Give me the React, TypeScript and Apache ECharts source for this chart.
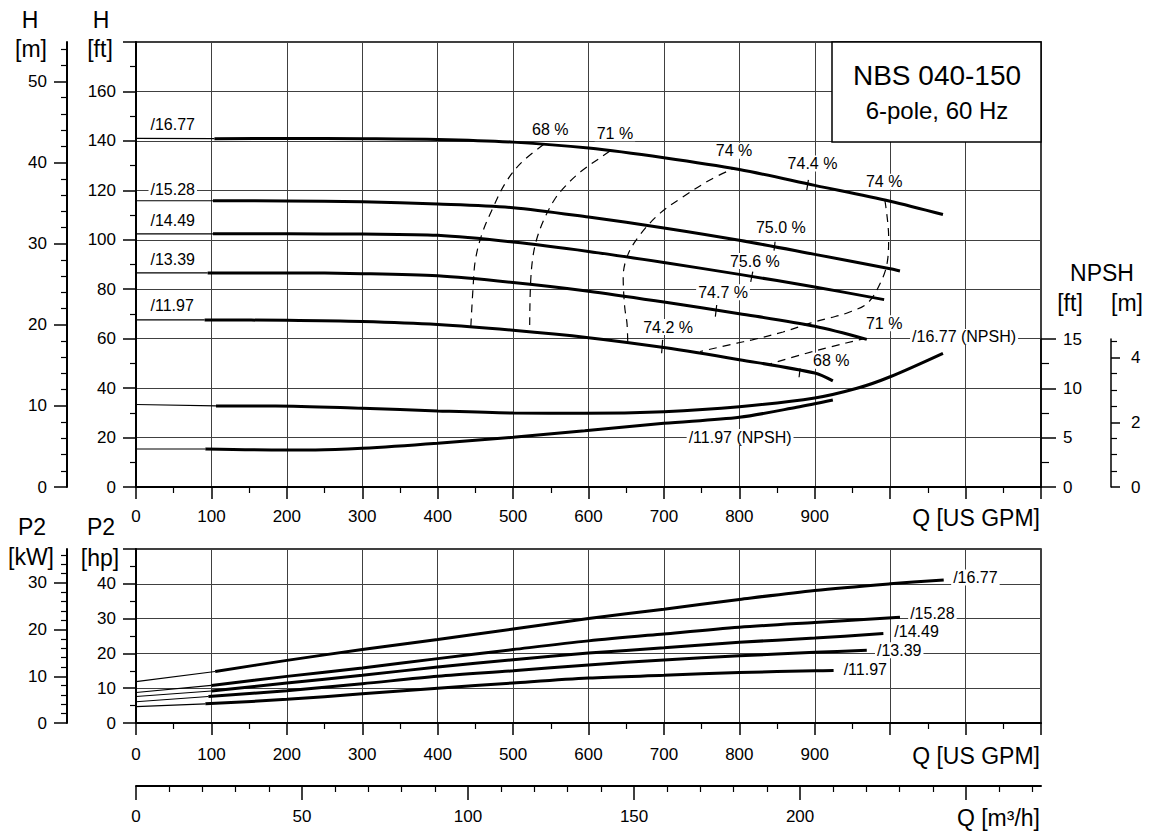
import React, { useEffect, useRef } from 'react';
import * as echarts from 'echarts';

const FONT = "'Liberation Sans', Arial, Helvetica, sans-serif";

// ---- axis extents / unit conversions ----
const Q_MAX_GPM = 1200;
const H_MAX_FT = 180;
const FT_TO_M = 0.3048;
const NPSH_AXIS_MAX_FT = 45; // hidden NPSH axis on the head grid (NPSH ft = H ft / 4)
const NPSH_SHOWN_MAX_FT = 15;
const P2_MAX_HP = 50;
const HP_TO_KW = 0.7457;
const GPM_PER_M3H = 4.40287;

// ---- head curves [Q GPM, H ft] (thin = extrapolated part, thick = operating range) ----
const h1677Thin = [[0, 141.0], [104, 140.9]];
const h1677 = [[104, 140.9], [200, 141.0], [300, 140.9], [400, 140.6], [500, 139.5], [600, 137.1], [700, 133.2], [800, 128.4], [900, 122.0], [1000, 115.6], [1070, 110.2]];
const h1528Thin = [[0, 115.8], [102, 115.8]];
const h1528 = [[102, 115.8], [200, 115.7], [300, 115.4], [400, 114.5], [500, 113.0], [600, 109.2], [700, 104.8], [800, 99.8], [900, 94.1], [1000, 88.3], [1013, 87.4]];
const h1449Thin = [[0, 102.4], [102, 102.4]];
const h1449 = [[102, 102.4], [200, 102.4], [300, 102.3], [400, 101.8], [500, 99.1], [600, 95.3], [700, 90.8], [800, 86.0], [900, 80.9], [992, 75.8]];
const h1339Thin = [[0, 86.6], [95, 86.6]];
const h1339 = [[95, 86.6], [200, 86.6], [300, 86.3], [400, 85.4], [500, 82.7], [600, 79.2], [700, 74.8], [800, 70.1], [900, 65.0], [969, 59.7]];
const h1197Thin = [[0, 67.6], [91, 67.6]];
const h1197 = [[91, 67.6], [200, 67.4], [300, 66.9], [400, 65.7], [500, 63.4], [600, 60.4], [700, 56.4], [800, 51.5], [900, 46.1], [924, 42.9]];

// ---- NPSH curves [Q GPM, NPSH ft] ----
const npsh1677Thin = [[0, 8.34], [106, 8.2]];
const npsh1677 = [[106, 8.2], [185, 8.2], [300, 7.96], [400, 7.69], [500, 7.48], [595, 7.45], [700, 7.62], [800, 8.12], [900, 9.0], [956, 9.98], [1000, 11.15], [1070, 13.52]];
const npsh1197Thin = [[0, 3.84], [92, 3.84]];
const npsh1197 = [[92, 3.84], [198, 3.74], [238, 3.74], [300, 3.91], [400, 4.42], [500, 5.03], [595, 5.68], [700, 6.44], [800, 7.05], [876, 8.06], [924, 8.8]];

// ---- power curves [Q GPM, P2 hp] ----
const p1677Thin = [[0, 11.9], [105, 14.8]];
const p1677 = [[105, 14.8], [200, 18.0], [300, 21.1], [400, 24.0], [500, 27.0], [600, 30.0], [700, 32.7], [800, 35.5], [900, 38.1], [1000, 40.0], [1071, 41.1]];
const p1528Thin = [[0, 8.75], [100, 10.8]];
const p1528 = [[100, 10.8], [200, 13.4], [300, 15.8], [400, 18.5], [500, 21.1], [600, 23.6], [700, 25.6], [800, 27.5], [900, 28.9], [1013, 30.4]];
const p1449Thin = [[0, 7.6], [100, 9.2]];
const p1449 = [[100, 9.2], [200, 11.5], [300, 13.7], [400, 16.1], [500, 18.2], [600, 20.1], [700, 21.6], [800, 23.2], [900, 24.4], [991, 25.7]];
const p1339Thin = [[0, 6.1], [96, 7.6]];
const p1339 = [[96, 7.6], [200, 9.3], [300, 11.3], [400, 13.4], [500, 15.0], [600, 16.7], [700, 18.1], [800, 19.3], [900, 20.3], [969, 20.9]];
const p1197Thin = [[0, 4.7], [92, 5.5]];
const p1197 = [[92, 5.5], [200, 6.8], [300, 8.4], [400, 10.0], [500, 11.5], [600, 12.9], [700, 13.7], [800, 14.5], [900, 15.0], [925, 15.1]];

// ---- iso-efficiency contours [Q GPM, H ft] ----
const eff68Left = [[444, 65.0], [447, 81.0], [450, 91.8], [459, 102.6], [474.5, 113.7], [489.5, 122.8], [510, 130.9], [541.6, 138.8]];
const eff71Left = [[522, 65.5], [523, 81.0], [525.7, 91.8], [531, 99.9], [540.7, 108.0], [554.6, 116.1], [568.7, 121.5], [589.5, 127.5], [617.5, 133.6], [629, 136.0]];
const eff74Left = [[652, 59.0], [651, 66.3], [648, 72.8], [646, 84.9], [652, 93.8], [668, 101.9], [695, 110.8], [725, 117.3], [761, 124.2], [792, 128.8]];
const eff74Right = [[993, 116.0], [998, 101.1], [996, 90.6], [987, 82.5], [970, 74.4], [943, 70.4], [920, 68.4], [894, 66.3], [858, 62.7], [817, 59.5], [797, 58.2], [748, 54.8]];
const eff71Right = [[969, 60.0], [963, 59.8], [920, 56.6], [881, 53.4], [841, 49.8]];

// short marks across the curves (best efficiency points, 68 % point)
const bepTicks = [
  [[891.6, 124.2], [889.4, 120.1]],
  [[847.4, 99.2], [846.0, 95.6]],
  [[817.8, 87.1], [815.1, 83.0]],
  [[770.0, 73.6], [768.2, 68.9]],
  [[698.3, 59.5], [697.0, 54.1]],
  [[880.6, 48.0], [879.2, 44.4]],
];

// ---- texts placed in data coordinates ----
const headCurveLabels = [[16.6, 146.8, '/16.77'], [16.6, 120.5, '/15.28'], [16.6, 108.0, '/14.49'], [16.6, 92.2, '/13.39'], [16.6, 73.6, '/11.97']];
const effLabels = [
  [549.4, 144.8, '68 %'], [635, 143.1, '71 %'], [793, 136.0, '74 %'], [897, 130.9, '74.4 %'], [992, 123.5, '74 %'],
  [855, 105.0, '75.0 %'], [820.5, 91.4, '75.6 %'], [778.4, 78.8, '74.7 %'], [705.5, 64.7, '74.2 %'],
  [992, 66.2, '71 %'], [922, 51.1, '68 %'],
];
const npshLabels = [[1098, 60.7, '/16.77 (NPSH)'], [801, 20.2, '/11.97 (NPSH)']];
const p2Labels = [[1113, 41.8, '/16.77'], [1056, 31.5, '/15.28'], [1035, 26.3, '/14.49'], [1012, 20.9, '/13.39'], [967, 15.3, '/11.97']];

const titleLines = ['NBS 040-150', '6-pole, 60 Hz'];

// ---------------------------------------------------------------------------

const BLACK = '#000';
const GRID_COLOR = '#404040';

function valueAxis(opts: any) {
  const {
    tickLen = 12, minorLen = 6, minorSplit = 2, labelMargin = 20, lineWidth = 2,
    formatter, tickValues, splitLine = false, ...rest
  } = opts;
  const axis: any = {
    type: 'value',
    axisLine: { show: true, onZero: false, lineStyle: { color: BLACK, width: lineWidth } },
    axisTick: { show: true, inside: false, length: tickLen, lineStyle: { color: BLACK, width: 1.5 } },
    minorTick: { show: true, splitNumber: minorSplit, length: minorLen, lineStyle: { color: BLACK, width: 1.2 } },
    axisLabel: {
      show: true, color: BLACK, fontSize: 17, fontFamily: FONT, margin: labelMargin,
      formatter, showMinLabel: true, showMaxLabel: true, hideOverlap: false,
    },
    splitLine: { show: splitLine, lineStyle: { color: GRID_COLOR, width: 1 } },
    minorSplitLine: { show: false },
    ...rest,
  };
  if (tickValues) axis.axisTick.customValues = tickValues;
  return axis;
}

const isMult = (v: number, step: number) => Math.abs(v / step - Math.round(v / step)) < 1e-6;

function lineSeries(data: number[][], xi: number, yi: number, width: number, extra: any = {}) {
  return {
    type: 'line', xAxisIndex: xi, yAxisIndex: yi, data,
    showSymbol: false, symbol: 'none', smooth: 0.3, silent: true, z: 3,
    lineStyle: { color: BLACK, width, ...(extra.lineStyle || {}) },
    ...Object.fromEntries(Object.entries(extra).filter(([k]) => k !== 'lineStyle')),
  };
}

function text(x: number, y: number, s: string, size: number, align = 'center', extraStyle: any = {}) {
  return {
    type: 'text', x, y, z: 100, silent: true,
    style: {
      text: s, fill: BLACK, fontSize: size, fontFamily: FONT, font: `${size}px ${FONT}`,
      align, textAlign: align, verticalAlign: 'middle', textVerticalAlign: 'middle',
      ...extraStyle,
    },
  };
}

function buildOption() {
  const gpmFormatter = (v: number) => (v <= 900 ? String(v) : '');
  const grids = [
    { left: 136, top: 42, width: 905, height: 445, show: true, borderColor: BLACK, borderWidth: 1.5, containLabel: false, outerBoundsMode: 'none' },
    { left: 136, top: 549, width: 905, height: 174, show: true, borderColor: BLACK, borderWidth: 1.5, containLabel: false, outerBoundsMode: 'none' },
    { left: 140, top: 339, width: 901, height: 148, show: false, containLabel: false, outerBoundsMode: 'none' },
    { left: 136, top: 700, width: 905, height: 86, show: false, containLabel: false, outerBoundsMode: 'none' },
  ];

  const xAxis = [
    valueAxis({ gridIndex: 0, position: 'bottom', min: 0, max: Q_MAX_GPM, interval: 100, formatter: gpmFormatter, labelMargin: 21, splitLine: true }),
    valueAxis({ gridIndex: 1, position: 'bottom', min: 0, max: Q_MAX_GPM, interval: 100, formatter: gpmFormatter, labelMargin: 23, splitLine: true }),
    { type: 'value', gridIndex: 2, min: 0, max: Q_MAX_GPM, show: false },
    valueAxis({
      gridIndex: 3, position: 'bottom', min: 0, max: Q_MAX_GPM / GPM_PER_M3H, interval: 50,
      tickLen: 14, minorLen: 6, minorSplit: 5, labelMargin: 22,
      tickValues: [0, 50, 100, 150, 200, 250],
      formatter: (v: number) => (isMult(v, 50) && v <= 200 ? String(Math.round(v)) : ''),
    }),
  ];

  const yAxis = [
    // 0: H ft
    valueAxis({ gridIndex: 0, position: 'left', min: 0, max: H_MAX_FT, interval: 20, tickLen: 13, splitLine: true,
      formatter: (v: number) => (v <= 160 ? String(v) : '') }),
    // 1: H m
    valueAxis({ gridIndex: 0, position: 'left', offset: 69, min: 0, max: H_MAX_FT * FT_TO_M, interval: 10, tickLen: 13, minorSplit: 5,
      tickValues: [0, 10, 20, 30, 40, 50],
      formatter: (v: number) => (isMult(v, 10) && v <= 50 ? String(Math.round(v)) : '') }),
    // 2: hidden NPSH ft scale aligned with head grid
    { type: 'value', gridIndex: 0, min: 0, max: NPSH_AXIS_MAX_FT, show: false },
    // 3: P2 hp
    valueAxis({ gridIndex: 1, position: 'left', min: 0, max: P2_MAX_HP, interval: 10, tickLen: 13, splitLine: true,
      formatter: (v: number) => (v <= 40 ? String(v) : '') }),
    // 4: P2 kW
    valueAxis({ gridIndex: 1, position: 'left', offset: 69, min: 0, max: P2_MAX_HP * HP_TO_KW, interval: 10, tickLen: 13, minorSplit: 5,
      tickValues: [0, 10, 20, 30],
      formatter: (v: number) => (isMult(v, 10) && v <= 30 ? String(Math.round(v)) : '') }),
    // 5: NPSH ft (visible)
    valueAxis({ gridIndex: 2, position: 'right', min: 0, max: NPSH_SHOWN_MAX_FT, interval: 5, tickLen: 15, minorLen: 8, lineWidth: 1.5, labelMargin: 22,
      formatter: (v: number) => String(v) }),
    // 6: NPSH m
    valueAxis({ gridIndex: 2, position: 'right', offset: 70, min: 0, max: NPSH_SHOWN_MAX_FT * FT_TO_M, interval: 2, tickLen: 9, minorLen: 6, minorSplit: 4, lineWidth: 1.5, labelMargin: 20,
      tickValues: [0, 2, 4],
      formatter: (v: number) => (isMult(v, 2) && v <= 4 ? String(Math.round(v)) : '') }),
    // 7: hidden for m3/h grid
    { type: 'value', gridIndex: 3, min: 0, max: 1, show: false },
  ];

  const thin = 1.1;
  const thick = 3;
  const dashed = { lineStyle: { type: [8, 6], width: 1.2 }, smooth: 0.35, z: 2 };

  const series: any[] = [
    ...[h1677Thin, h1528Thin, h1449Thin, h1339Thin, h1197Thin].map((d) => lineSeries(d, 0, 0, thin)),
    ...[h1677, h1528, h1449, h1339, h1197].map((d) => lineSeries(d, 0, 0, thick)),
    ...[npsh1677Thin, npsh1197Thin].map((d) => lineSeries(d, 0, 2, thin)),
    ...[npsh1677, npsh1197].map((d) => lineSeries(d, 0, 2, thick)),
    ...[eff68Left, eff71Left, eff74Left, eff74Right, eff71Right].map((d) => lineSeries(d, 0, 0, 1.2, dashed)),
    ...bepTicks.map((d) => lineSeries(d, 0, 0, 1.2, { smooth: false })),
    ...[p1677Thin, p1528Thin, p1449Thin, p1339Thin, p1197Thin].map((d) => lineSeries(d, 1, 3, thin)),
    ...[p1677, p1528, p1449, p1339, p1197].map((d) => lineSeries(d, 1, 3, thick)),
  ];

  return {
    animation: false,
    backgroundColor: '#fff',
    textStyle: { fontFamily: FONT, color: BLACK },
    grid: grids,
    xAxis,
    yAxis,
    series,
  };
}

function staticGraphic() {
  return [
    { type: 'rect', z: 90, silent: true, shape: { x: 832, y: 42, width: 209, height: 100 }, style: { fill: '#fff', stroke: BLACK, lineWidth: 1.5 } },
    text(937, 75, titleLines[0], 28),
    text(937, 110, titleLines[1], 24),
    text(30, 20, 'H', 23), text(31, 49, '[m]', 23),
    text(101, 20, 'H', 23), text(100, 49, '[ft]', 23),
    text(32, 527, 'P2', 23), text(31, 557, '[kW]', 23),
    text(101, 527, 'P2', 23), text(100, 558, '[hp]', 23),
    text(1102, 273, 'NPSH', 23), text(1070, 303, '[ft]', 23), text(1127, 303, '[m]', 23),
    text(1040, 518, 'Q [US GPM]', 23, 'right'),
    text(1040, 756, 'Q [US GPM]', 23, 'right'),
    text(1040, 818, 'Q [m³/h]', 23, 'right'),
  ];
}

// curve annotations, positioned through the chart's own axis scales
function dataLabels(chart: any, items: any[], xi: number, yi: number, align = 'center') {
  return items.map(([x, y, t]) => {
    const p = chart.convertToPixel({ xAxisIndex: xi, yAxisIndex: yi }, [x, y]);
    return text(p[0], p[1], t, 16, align, { backgroundColor: '#fff', padding: [0, 2] });
  });
}

export default function App() {
  const ref = useRef<HTMLDivElement>(null);
  useEffect(() => {
    document.body.style.margin = '0';
    const chart = echarts.init(ref.current as HTMLDivElement, null, { renderer: 'svg' });
    chart.setOption(buildOption() as any);
    const labels = [
      ...dataLabels(chart, headCurveLabels, 0, 0, 'left'),
      ...dataLabels(chart, effLabels, 0, 0),
      ...dataLabels(chart, npshLabels, 0, 0),
      ...dataLabels(chart, p2Labels, 1, 3),
    ];
    chart.setOption({ graphic: [...staticGraphic(), ...labels] } as any);
    return () => chart.dispose();
  }, []);
  return <div ref={ref} style={{ width: 1152, height: 831 }} />;
}
